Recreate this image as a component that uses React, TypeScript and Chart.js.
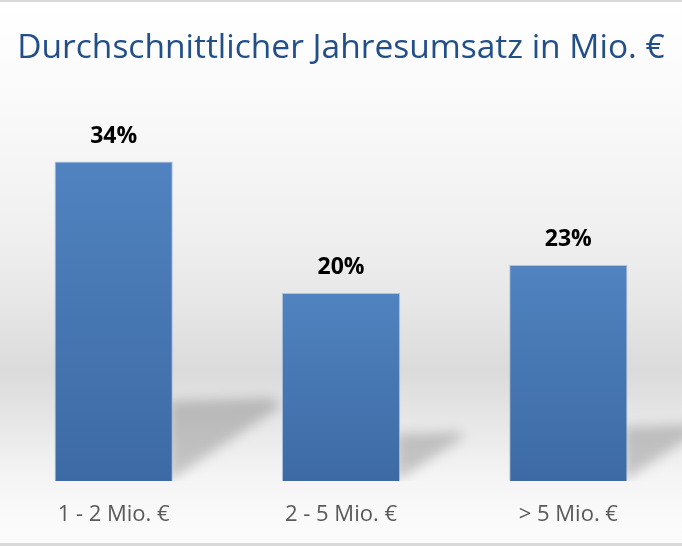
import React, { useEffect, useRef } from 'react';
import { Chart, registerables, Plugin } from 'chart.js';

Chart.register(...registerables);

// data
const categories = ['1 - 2 Mio. €', '2 - 5 Mio. €', '> 5 Mio. €'];
const shares = [34, 20, 23];
const chartTitle = 'Durchschnittlicher Jahresumsatz in Mio. €';

const FONT = "'Open Sans', 'Liberation Sans', sans-serif";

// grey studio backdrop plus the thin frame lines at top and bottom
const backdrop: Plugin<'bar'> = {
  id: 'backdrop',
  beforeDraw(chart) {
    const { ctx, width, height } = chart;
    ctx.save();
    const g = ctx.createLinearGradient(0, 0, 0, height);
    g.addColorStop(0, '#ffffff');
    g.addColorStop(0.18, '#fafafa');
    g.addColorStop(0.42, '#f0f0f0');
    g.addColorStop(0.55, '#e7e7e7');
    g.addColorStop(0.68, '#dbdbdb');
    g.addColorStop(0.79, '#e9e9e9');
    g.addColorStop(0.88, '#f5f5f5');
    g.addColorStop(0.95, '#fafafa');
    g.addColorStop(1, '#fbfbfb');
    ctx.fillStyle = g;
    ctx.fillRect(0, 0, width, height);
    ctx.fillStyle = '#d9d9d9';
    ctx.fillRect(0, 0, width, 2);
    ctx.fillRect(0, height - 3, width, 3);
    ctx.restore();
  },
};

// soft floor shadow falling to the right of every bar
const floorShadow: Plugin<'bar'> = {
  id: 'floorShadow',
  beforeDatasetsDraw(chart) {
    const { ctx } = chart;
    const meta = chart.getDatasetMeta(0);
    ctx.save();
    ctx.beginPath();
    ctx.rect(0, 0, chart.width, chart.chartArea.bottom);
    ctx.clip();
    ctx.filter = 'blur(6px)';
    ctx.fillStyle = 'rgba(0,0,0,0.19)';
    meta.data.forEach((bar: any) => {
      const { x, y, base, width } = bar.getProps(['x', 'y', 'base', 'width'], true);
      const right = x + width / 2;
      const h = base - y;
      ctx.beginPath();
      ctx.moveTo(right - 4, base);
      ctx.lineTo(right + 0.34 * h, base - 0.235 * h);
      ctx.lineTo(right + 0.31 * h, base - 0.26 * h);
      ctx.lineTo(right - 4, base - 0.25 * h);
      ctx.closePath();
      ctx.fill();
    });
    ctx.restore();
  },
};

const valueLabels: Plugin<'bar'> = {
  id: 'valueLabels',
  afterDatasetsDraw(chart) {
    const { ctx } = chart;
    const meta = chart.getDatasetMeta(0);
    ctx.save();
    ctx.font = `bold 23px ${FONT}`;
    ctx.fillStyle = '#000000';
    ctx.textAlign = 'center';
    ctx.textBaseline = 'alphabetic';
    meta.data.forEach((bar: any, i) => {
      ctx.fillText(`${shares[i]}%`, bar.x, bar.y - 19);
    });
    ctx.restore();
  },
};

const RevenueChart: React.FC = () => {
  const canvasRef = useRef<HTMLCanvasElement>(null);

  useEffect(() => {
    document.body.style.margin = '0';
    let chart: Chart<'bar'> | null = null;
    let cancelled = false;

    const build = () => {
      if (cancelled || !canvasRef.current) return;
      chart = new Chart(canvasRef.current, {
        type: 'bar',
        data: {
          labels: categories,
          datasets: [
            {
              data: shares,
              backgroundColor: (c: any) => {
                const ch = c.chart;
                const area = ch.chartArea;
                if (!area) return '#4f81bd';
                const top = ch.scales.y.getPixelForValue(shares[c.dataIndex]);
                const g = ch.ctx.createLinearGradient(0, top, 0, area.bottom);
                g.addColorStop(0, '#5083c0');
                g.addColorStop(1, '#3d6aa4');
                return g;
              },
              borderColor: 'rgba(150,180,220,0.7)',
              borderWidth: 1,
              categoryPercentage: 0.52,
              barPercentage: 1,
            },
          ],
        },
        options: {
          animation: false,
          responsive: true,
          maintainAspectRatio: false,
          layout: { padding: { left: 0, right: 0, top: 0, bottom: 15 } },
          plugins: {
            legend: { display: false },
            tooltip: { enabled: false },
            title: {
              display: true,
              text: chartTitle,
              color: '#234f88',
              font: { family: FONT, size: 33.5, weight: 'normal' },
              padding: { top: 28, bottom: 37 },
            },
          },
          scales: {
            x: {
              grid: { display: false, drawTicks: false },
              border: { display: false },
              ticks: { color: '#595959', font: { family: FONT, size: 22 }, padding: 21 },
              afterFit: (scale: any) => {
                scale.height = 50;
              },
            },
            y: { display: false, min: 0, max: 40 },
          },
        },
        plugins: [backdrop, floorShadow, valueLabels],
      });
    };

    Promise.all([
      document.fonts.load(`33px 'Open Sans'`),
      document.fonts.load(`bold 23px 'Open Sans'`),
    ]).then(build, build);

    return () => {
      cancelled = true;
      if (chart) chart.destroy();
    };
  }, []);

  return (
    <div style={{ position: 'relative', width: 682, height: 546 }}>
      <canvas ref={canvasRef}></canvas>
    </div>
  );
};

export default function App() {
  return <RevenueChart />;
}
